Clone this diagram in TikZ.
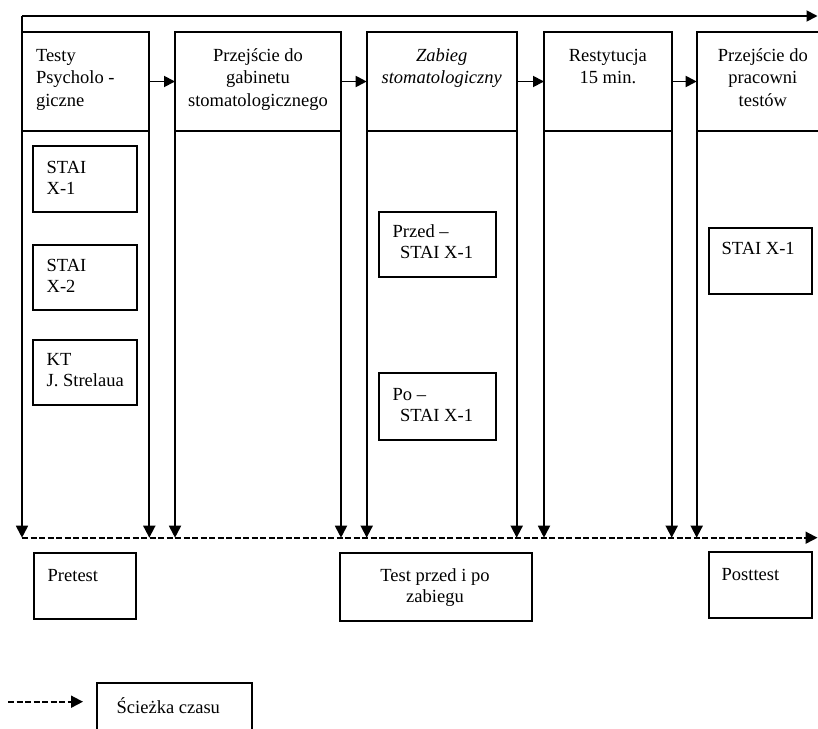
\documentclass[tikz,border=0pt]{standalone}
\usepackage{fontspec}
\setmainfont{Liberation Serif}
\newfontfamily\tnr{Liberation Serif}
\usetikzlibrary{arrows.meta}
\newcommand{\ptxt}[3]{\parbox[t]{#1}{#2#3}}
\begin{document}
\begin{tikzpicture}[x=1pt,y=-1pt,
  box/.style={draw, line width=1.8pt, inner sep=0pt, outer sep=0pt},
  lbl/.style={inner sep=0pt, outer sep=0pt, font=\tnr\fontsize{18.5}{22.5}\selectfont},
  ilbl/.style={inner sep=0pt, outer sep=0pt, font=\tnr\fontsize{18.5}{21}\selectfont},
  conn/.style={line width=1.8pt, -{Triangle[length=11pt,width=11pt]}},
  down/.style={line width=1.8pt, -{Triangle[length=12pt,width=12pt]}},
  tline/.style={line width=1.8pt, dash pattern=on 6pt off 2.5pt, -{Triangle[length=12pt,width=12pt]}}]
\useasboundingbox (0,0) rectangle (818,728);
\clip (0,0) rectangle (818,728);

% header boxes
\node[box, minimum width=127.3pt, minimum height=99pt] (h1) at (85.65,81.5) {};
\node[box, minimum width=166pt, minimum height=99pt] (h2) at (258,81.5) {};
\node[box, minimum width=150pt, minimum height=99pt] (h3) at (441.7,81.5) {};
\node[box, minimum width=127.7pt, minimum height=99pt] (h4) at (607.85,81.5) {};
\node[box, minimum width=132.3pt, minimum height=99pt] (h5) at (762.85,81.5) {};

% header texts
\node[lbl, anchor=base west] (t1) at (36,61) {\ptxt{110pt}{\raggedright}{Testy\\Psycholo -\\giczne}};
\node[lbl, anchor=base] (t2) at (258,61) {\ptxt{166pt}{\centering}{Przejście do\\gabinetu\\stomatologicznego}};
\node[lbl, anchor=base] (t3) at (441.7,61) {\ptxt{150pt}{\centering\itshape}{Zabieg\\stomatologiczny}};
\node[lbl, anchor=base] (t4) at (607.85,61) {\ptxt{127pt}{\centering}{Restytucja\\15 min.}};
\node[lbl, anchor=base] (t5) at (762.85,61) {\ptxt{130pt}{\centering}{Przejście do\\pracowni\\testów}};

% arrows between headers
\draw[conn] (h1.east) -- (h2.west);
\draw[conn] (h2.east) -- (h3.west);
\draw[conn] (h3.east) -- (h4.west);
\draw[conn] (h4.east) -- (h5.west);

% top time line and left edge
\coordinate (tc) at (22,16);
\coordinate (te) at (817.5,16);
\coordinate (dL) at (22,537.7);
\coordinate (dR) at (817.5,537.7);
\draw[conn] (tc) -- (te);
\draw[down] (tc) -- (dL);

% column edges down to the dashed line
\draw[down] (h1.south east) -- (h1.south east |- dL);
\draw[down] (h2.south west) -- (h2.south west |- dL);
\draw[down] (h2.south east) -- (h2.south east |- dL);
\draw[down] (h3.south west) -- (h3.south west |- dL);
\draw[down] (h3.south east) -- (h3.south east |- dL);
\draw[down] (h4.south west) -- (h4.south west |- dL);
\draw[down] (h4.south east) -- (h4.south east |- dL);
\draw[down] (h5.south west) -- (h5.south west |- dL);

% dashed time line
\draw[tline] (dL) -- (dR);

% inner boxes column 1
\node[box, minimum width=104pt, minimum height=66pt] (b1) at (85,179) {};
\node[ilbl, anchor=base west] (b1t) at (46.7,173.3) {\ptxt{85pt}{\raggedright}{STAI\\X-1}};
\node[box, minimum width=104pt, minimum height=65pt] (b2) at (85,277.5) {};
\node[ilbl, anchor=base west] (b2t) at (46.7,271.7) {\ptxt{85pt}{\raggedright}{STAI\\X-2}};
\node[box, minimum width=104pt, minimum height=65pt] (b3) at (85,372.5) {};
\node[ilbl, anchor=base west] (b3t) at (46.7,365) {\ptxt{85pt}{\raggedright}{KT\\J. Strelaua}};

% inner boxes column 3
\node[box, minimum width=117pt, minimum height=65.3pt] (b4) at (437.5,244.35) {};
\node[ilbl, anchor=base west] (b4t) at (392.7,237.3) {\ptxt{100pt}{\raggedright}{Przed –\\\hspace*{7.3pt}STAI X-1}};
\node[box, minimum width=117pt, minimum height=67pt] (b5) at (437.5,406.5) {};
\node[ilbl, anchor=base west] (b5t) at (392.7,400) {\ptxt{100pt}{\raggedright}{Po –\\\hspace*{7.3pt}STAI X-1}};

% inner box column 5
\node[box, minimum width=103pt, minimum height=66.6pt] (b6) at (760.8,261) {};
\node[ilbl, anchor=base west] (b6t) at (721.7,254) {STAI X-1};

% bottom boxes
\node[box, minimum width=102pt, minimum height=66.6pt] (p1) at (85,586) {};
\node[ilbl, anchor=base west] (p1t) at (47.7,581) {Pretest};
\node[box, minimum width=191.7pt, minimum height=68pt] (p2) at (435.85,587) {};
\node[ilbl, anchor=base] (p2t) at (435,581.7) {\ptxt{185pt}{\centering}{Test przed i po\\zabiegu}};
\node[box, minimum width=102.7pt, minimum height=66.6pt] (p3) at (760.35,585) {};
\node[ilbl, anchor=base west] (p3t) at (721.7,580) {Posttest};

% legend
\coordinate (ls) at (8,701.7);
\coordinate (le) at (83,701.7);
\draw[tline] (ls) -- (le);
\node[box, minimum width=154.4pt, minimum height=66.7pt] (lg) at (174.5,716.65) {};
\node[ilbl, anchor=base west] (lgt) at (116.7,713.3) {Ścieżka czasu};
\end{tikzpicture}
\end{document}
